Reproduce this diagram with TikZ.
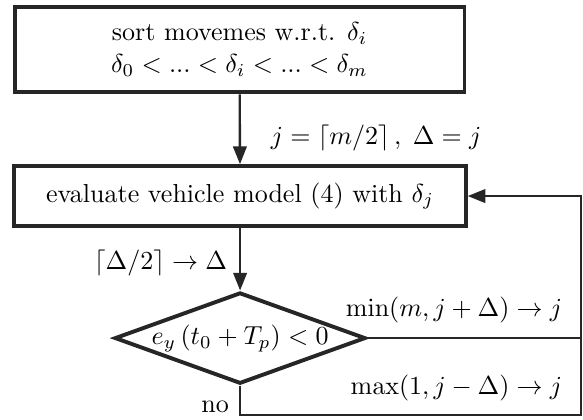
\documentclass[tikz,border=0pt]{standalone}
\usepackage{amsmath,amssymb}
\usepackage{tikz}
\usetikzlibrary{positioning, arrows.meta, shapes.geometric}
\tikzset{
  procbox/.style={draw=black!85, line width=1.5pt, fill=white, align=center, inner sep=2pt},
  decbox/.style={diamond, draw=black!85, line width=1.5pt, fill=white, aspect=2.75, inner sep=0pt},
  arr/.style={-{Triangle[length=6.8pt, width=5.2pt]}, line width=0.9pt, black!85},
  flow/.style={line width=0.9pt, black!85},
  steplabel/.style={inner sep=1pt},
}

\begin{document}
\begin{tikzpicture}
  \useasboundingbox (0,0) rectangle (7.88,5.665);
  % boxes
  \node[procbox, minimum width=6.08cm, minimum height=1.16cm] (sortbox) at (3.238,4.996)
    {sort movemes w.r.t. $\delta_i$\\ $\delta_0 < ... < \delta_i < ... < \delta_m$};
  \node[procbox, minimum width=6.10cm, minimum height=0.81cm] (evalbox) at (3.245,3.015)
    {evaluate vehicle model (4) with $\delta_j$};
  \node[decbox] (checkdia) at (3.245,1.095) {$e_y\,(t_0+T_p)<0$};
  \coordinate (fbtop) at (7.855,3.015);
  \coordinate (fbbot) at (7.855,0.054);
  % connectors
  \draw[arr] (sortbox) -- (evalbox);
  \draw[arr] (evalbox) -- (checkdia);
  \draw[arr] (checkdia.east) -| (fbtop) -- (evalbox.east);
  \draw[flow] (checkdia.south) |- (fbbot) -- (fbbot |- checkdia.east);
  % labels
  \node[steplabel, anchor=west] (initlab) at (3.62,3.80) {$j=\lceil m/2\rceil\,,\;\Delta=j$};
  \node[steplabel, anchor=east] (halflab) at (3.11,2.109) {$\lceil\Delta/2\rceil\rightarrow\Delta$};
  \node[steplabel, anchor=east] (uplab) at (7.64,1.474) {$\min(m,j+\Delta)\rightarrow j$};
  \node[steplabel, anchor=east] (downlab) at (7.64,0.419) {$\max(1,j-\Delta)\rightarrow j$};
  \node[steplabel] (nolab) at (2.907,0.162) {no};
\end{tikzpicture}
\end{document}
